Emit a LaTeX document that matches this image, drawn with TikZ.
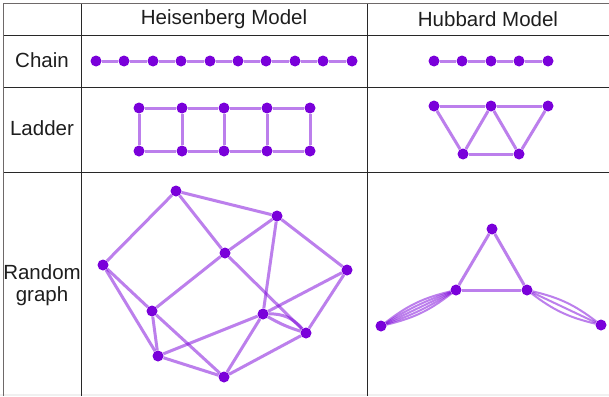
\documentclass[tikz,border=0pt]{standalone}
\usepackage{fontspec}
\setmainfont{Liberation Sans}
\definecolor{nodecol}{RGB}{122,0,218}
\definecolor{gridcol}{RGB}{40,40,40}
\definecolor{bordcol}{RGB}{110,105,105}
\definecolor{txtcol}{RGB}{30,30,30}
\tikzset{
  dot/.style={circle,fill=nodecol,inner sep=0pt,minimum size=11pt},
  edge/.style={draw=nodecol,draw opacity=0.5,line width=3pt},
  lbl/.style={font=\fontsize{20.5}{22}\selectfont,text=txtcol,inner sep=0pt},
  grid/.style={draw=gridcol,line width=1pt},
  bord/.style={draw=bordcol,line width=1.8pt}
}
\begin{document}
\begin{tikzpicture}[x=1pt,y=-1pt]
\useasboundingbox (0,0) rectangle (609,396);
\fill[white] (0,0) rectangle (609,396);
\fill[gray!12] (0,394) rectangle (609,396);
% table
\coordinate (tl) at (3.5,3.5);
\coordinate (tr) at (609,3.5);
\coordinate (bl) at (3.5,396);
\draw[grid] (3.5,36) -- (609,36);
\draw[grid] (3.5,87) -- (609,87);
\draw[grid] (3.5,172) -- (609,172);
\draw[grid] (81.5,3.5) -- (81.5,396);
\draw[grid] (367.5,3.5) -- (367.5,396);
\draw[bord] (tl) -- (tr);
\draw[bord] (tl) -- (bl);
% labels
\node[lbl] (h1) at (224,19) {Heisenberg Model};
\node[lbl] (h2) at (488,19) {Hubbard Model};
\node[lbl] (r1) at (42,60) {Chain};
\node[lbl] (r2) at (42,128) {Ladder};
\node[lbl,anchor=base] (r3a) at (42,279) {Random};
\node[lbl,anchor=base] (r3b) at (42,301) {graph};
% Heisenberg chain
\foreach \i/\x in {1/96,2/124,3/153,4/181,5/210,6/238,7/266,8/295,9/323,10/352}
  \node[dot] (hc\i) at (\x,61) {};
\foreach \i [evaluate=\i as \j using int(\i+1)] in {1,...,9}
  \draw[edge] (hc\i) -- (hc\j);
% Hubbard chain
\foreach \i/\x in {1/434,2/462,3/491,4/519,5/548}
  \node[dot] (uc\i) at (\x,61) {};
\foreach \i [evaluate=\i as \j using int(\i+1)] in {1,...,4}
  \draw[edge] (uc\i) -- (uc\j);
% Heisenberg ladder
\foreach \i/\x in {1/139,2/182,3/224,4/267,5/310}{
  \node[dot] (lt\i) at (\x,108) {};
  \node[dot] (lb\i) at (\x,151) {};
}
\foreach \i in {1,...,5} \draw[edge] (lt\i) -- (lb\i);
\foreach \i [evaluate=\i as \j using int(\i+1)] in {1,...,4}{
  \draw[edge] (lt\i) -- (lt\j);
  \draw[edge] (lb\i) -- (lb\j);
}
% Hubbard ladder
\node[dot] (ua) at (434,106) {};
\node[dot] (ub) at (491,106) {};
\node[dot] (uc) at (548,106) {};
\node[dot] (ud) at (463,154) {};
\node[dot] (ue) at (519,154) {};
\draw[edge] (ua) -- (ub);
\draw[edge] (ub) -- (uc);
\draw[edge] (ud) -- (ue);
\draw[edge] (ua) -- (ud);
\draw[edge] (ud) -- (ub);
\draw[edge] (ub) -- (ue);
\draw[edge] (ue) -- (uc);
% Heisenberg random graph
\node[dot] (A) at (176,191) {};
\node[dot] (B) at (277,216) {};
\node[dot] (C) at (225,253) {};
\node[dot] (D) at (103,265) {};
\node[dot] (E) at (347,270) {};
\node[dot] (F) at (152,311) {};
\node[dot] (G) at (263,314) {};
\node[dot] (H) at (306,333) {};
\node[dot] (I) at (158,356) {};
\node[dot] (J) at (224,377) {};
\foreach \a/\b in {A/B,A/D,A/C,C/B,B/E,B/G,C/F,C/H,D/F,D/I,F/I,F/J,E/G,E/H,G/I,G/J,H/J,I/J}
  \draw[edge] (\a) -- (\b);
\draw[edge] (G) to[bend left=25] (H);
\draw[edge] (G) to[bend right=6] (H);
% Hubbard random graph
\node[dot] (T) at (492,229) {};
\node[dot] (L) at (456,290) {};
\node[dot] (R) at (527,290) {};
\node[dot] (LL) at (381,326) {};
\node[dot] (RR) at (601,325) {};
\draw[edge] (T) -- (L);
\draw[edge] (T) -- (R);
\draw[edge] (L) -- (R);
\foreach \b in {-12,-6,0,6,12}
  \draw[edge,line width=2pt] (LL) to[bend left=\b] (L);
\foreach \b in {-12,0,12}
  \draw[edge,line width=2pt] (R) to[bend left=\b] (RR);
\end{tikzpicture}
\end{document}
